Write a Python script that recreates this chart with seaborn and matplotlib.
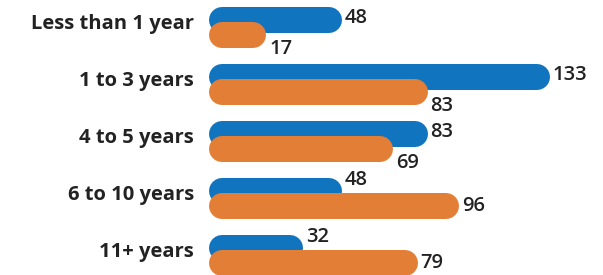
import matplotlib
matplotlib.use("Agg")
import matplotlib.pyplot as plt
import seaborn as sns
import pandas as pd

# ---- data ----
categories = ["Less than 1 year", "1 to 3 years", "4 to 5 years", "6 to 10 years", "11+ years"]
series_names = ["Series 1", "Series 2"]
blue_values = [48, 133, 83, 48, 32]
orange_values = [17, 83, 69, 96, 79]

BLUE = "#1174BE"
ORANGE = "#E37E36"
TEXT = "#222222"

df = pd.DataFrame({
    "category": categories * 2,
    "series": [series_names[0]] * len(categories) + [series_names[1]] * len(categories),
    "value": blue_values + orange_values,
})

sns.set_style("white")
plt.rcParams["font.family"] = ["Open Sans", "DejaVu Sans"]

fig = plt.figure(figsize=(6.03, 2.75), dpi=100)
ax = fig.add_axes([0, 0, 1, 1])
sns.barplot(data=df, y="category", x="value", hue="series", order=categories,
            hue_order=series_names, palette=[BLUE, ORANGE], width=0.53,
            orient="h", legend=False, ax=ax)

# scale: 0 at pixel 212, 2.44 px per unit
px0, ppu = 212.0, 2.44
ax.set_xlim(-px0 / ppu, (603 - px0) / ppu)
ax.set_ylim(4.342, -0.474)

bar_px = 26
lw_pt = bar_px * 72 / 100
start = 4.1  # left cap start so the visual left edge sits at ~209px

patches = list(ax.patches)
n = len(categories)
blue_p = patches[:n]
orange_p = patches[n:2 * n]

FS = 14.5
for i in range(n):
    bp, op = blue_p[i], orange_p[i]
    bv, ov = blue_values[i], orange_values[i]
    for p, v, col, z in ((bp, bv, BLUE, 3), (op, ov, ORANGE, 4)):
        y = p.get_y() + p.get_height() / 2
        ax.plot([start, p.get_width()], [y, y], lw=lw_pt, color=col,
                solid_capstyle="round", zorder=z)
        p.set_visible(False)
    # value labels
    by = bp.get_y() + bp.get_height() / 2
    oy = op.get_y() + op.get_height() / 2
    b_off = 1 if bv >= ov else 8
    o_off = -10 if ov < bv else 0
    ax.annotate(str(bv), (bp.get_width(), by), xytext=(bar_px * 0.36 + 2, b_off),
                textcoords="offset points", ha="left", va="center",
                fontsize=FS, fontweight="semibold", color=TEXT, zorder=6)
    ax.annotate(str(ov), (op.get_width(), oy), xytext=(bar_px * 0.36 + 2, o_off),
                textcoords="offset points", ha="left", va="center",
                fontsize=FS, fontweight="semibold", color=TEXT, zorder=6)
    # category label
    ax.text((194 - px0) / ppu, i - 0.06, categories[i], ha="right", va="center",
            fontsize=FS, fontweight="bold", color=TEXT)

ax.set_xlabel("")
ax.set_ylabel("")
ax.set_xticks([])
ax.set_yticks([])
for s in ax.spines.values():
    s.set_visible(False)

fig.savefig("out.png", dpi=100)
